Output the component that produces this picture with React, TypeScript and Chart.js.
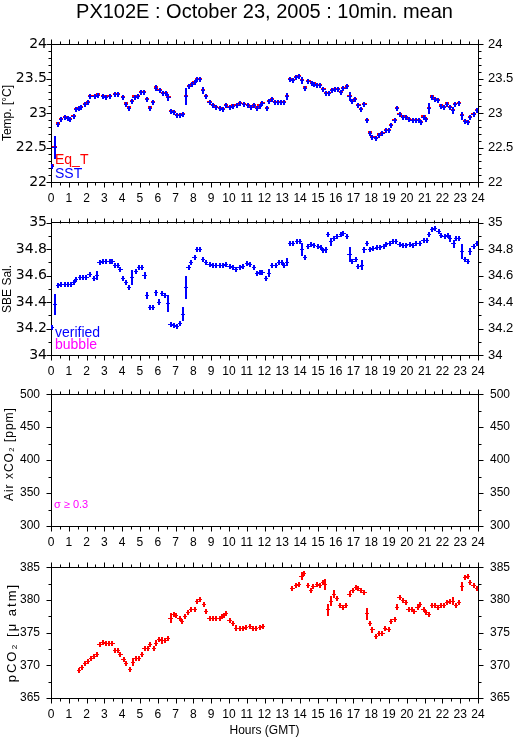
import { useEffect, useRef } from 'react';
import { Chart, registerables } from 'chart.js';

Chart.register(...registerables);

// ---------- tick labels ----------
const hourTicks = [0, 1, 2, 3, 4, 5, 6, 7, 8, 9, 10, 11, 12, 13, 14, 15, 16, 17, 18, 19, 20, 21, 22, 23, 24];
const tempTicks = [22, 22.5, 23, 23.5, 24];
const salTicks = [34, 34.2, 34.4, 34.6, 34.8, 35];
const airTicks = [300, 350, 400, 450, 500];
const pco2Ticks = [365, 370, 375, 380, 385];

// ---------- panel 1 : temperature ----------
const sstHours = [0.07, 0.2, 0.4, 0.58, 0.77, 0.95, 1.08, 1.27, 1.42, 1.57, 1.7, 1.9, 2.08, 2.2, 2.45, 2.64, 2.92, 3.1, 3.3, 3.58, 3.76, 4.04, 4.2, 4.38, 4.57, 4.7, 4.89, 5.07, 5.22, 5.41, 5.58, 5.73, 5.92, 6.1, 6.29, 6.45, 6.6, 6.75, 6.9, 7.1, 7.27, 7.42, 7.57, 7.75, 7.94, 8.07, 8.22, 8.38, 8.56, 8.73, 8.91, 9.1, 9.29, 9.48, 9.66, 9.85, 10.04, 10.22, 10.45, 10.64, 10.84, 11.07, 11.25, 11.4, 11.57, 11.72, 11.88, 12.12, 12.25, 12.44, 12.6, 12.77, 12.94, 13.1, 13.25, 13.44, 13.62, 13.75, 13.94, 14.09, 14.28, 14.47, 14.65, 14.8, 14.94, 15.1, 15.31, 15.44, 15.63, 15.78, 15.97, 16.12, 16.28, 16.44, 16.63, 16.78, 16.94, 17.09, 17.28, 17.43, 17.62, 17.75, 17.94, 18.07, 18.26, 18.45, 18.63, 18.82, 18.97, 19.12, 19.31, 19.44, 19.59, 19.78, 19.95, 20.13, 20.32, 20.49, 20.66, 20.79, 20.94, 21.09, 21.26, 21.41, 21.6, 21.75, 21.92, 22.1, 22.25, 22.44, 22.59, 22.72, 22.95, 23.1, 23.25, 23.42, 23.57, 23.75, 23.94];
const sstValues = [22.23, 22.5, 22.83, 22.9, 22.93, 22.92, 22.9, 22.95, 23.05, 23.06, 23.08, 23.12, 23.15, 23.24, 23.24, 23.26, 23.24, 23.23, 23.24, 23.27, 23.27, 23.22, 23.12, 23.07, 23.17, 23.23, 23.24, 23.29, 23.29, 23.2, 23.07, 23.15, 23.36, 23.32, 23.28, 23.28, 23.22, 23.02, 23.01, 22.96, 22.96, 22.98, 23.24, 23.38, 23.41, 23.44, 23.49, 23.49, 23.32, 23.24, 23.15, 23.11, 23.08, 23.06, 23.05, 23.11, 23.08, 23.1, 23.11, 23.14, 23.12, 23.11, 23.08, 23.11, 23.07, 23.1, 23.14, 23.06, 23.17, 23.19, 23.15, 23.15, 23.15, 23.15, 23.24, 23.48, 23.47, 23.51, 23.53, 23.47, 23.36, 23.46, 23.43, 23.42, 23.4, 23.4, 23.34, 23.28, 23.28, 23.32, 23.34, 23.34, 23.3, 23.35, 23.38, 23.24, 23.17, 23.2, 23.11, 23.05, 23.12, 22.89, 22.7, 22.64, 22.63, 22.68, 22.7, 22.74, 22.74, 22.82, 22.89, 23.06, 22.98, 22.94, 22.93, 22.9, 22.89, 22.89, 22.89, 22.86, 22.94, 22.91, 23.06, 23.23, 23.19, 23.18, 23.1, 23.08, 23.13, 23.08, 23.03, 23.12, 23.14, 22.96, 22.88, 22.86, 22.93, 22.98, 23.03];
const sstErrors = [0.01, 0.17, 0.04, 0.01, 0.01, 0.01, 0.01, 0.02, 0.02, 0.02, 0.01, 0.01, 0.01, 0.01, 0.02, 0.02, 0.01, 0.01, 0.01, 0.01, 0.01, 0.02, 0.04, 0.01, 0.04, 0.02, 0.01, 0.02, 0.03, 0.02, 0.02, 0.02, 0.04, 0.02, 0.02, 0.02, 0.05, 0.01, 0.01, 0.01, 0.01, 0.02, 0.12, 0.02, 0.01, 0.02, 0.01, 0.01, 0.05, 0.03, 0.01, 0.02, 0.01, 0.01, 0.01, 0.02, 0.02, 0.01, 0.01, 0.01, 0.01, 0.01, 0.01, 0.01, 0.02, 0.01, 0.01, 0.01, 0.02, 0.01, 0.01, 0.01, 0.01, 0.01, 0.05, 0.01, 0.01, 0.01, 0.01, 0.05, 0.01, 0.01, 0.01, 0.01, 0.01, 0.01, 0.02, 0.01, 0.01, 0.01, 0.01, 0.01, 0.01, 0.02, 0.01, 0.06, 0.02, 0.01, 0.02, 0.02, 0.02, 0.04, 0.04, 0.02, 0.01, 0.01, 0.01, 0.01, 0.01, 0.02, 0.02, 0.02, 0.03, 0.01, 0.01, 0.01, 0.01, 0.01, 0.01, 0.01, 0.02, 0.02, 0.08, 0.01, 0.01, 0.01, 0.03, 0.02, 0.01, 0.04, 0.05, 0.01, 0.01, 0.06, 0.02, 0.02, 0.02, 0.01, 0.02];
const eqTValues = [22.25, 22.51, 22.85, 22.91, 22.94, 22.93, 22.91, 22.96, 23.06, 23.07, 23.09, 23.13, 23.16, 23.25, 23.25, 23.27, 23.25, 23.24, 23.25, 23.28, 23.28, 23.23, 23.14, 23.08, 23.18, 23.24, 23.25, 23.3, 23.3, 23.21, 23.08, 23.16, 23.38, 23.33, 23.29, 23.29, 23.23, 23.03, 23.02, 22.97, 22.97, 22.99, 23.25, 23.39, 23.42, 23.45, 23.5, 23.5, 23.33, 23.25, 23.16, 23.12, 23.09, 23.07, 23.06, 23.12, 23.09, 23.11, 23.12, 23.15, 23.13, 23.12, 23.09, 23.12, 23.08, 23.11, 23.15, 23.07, 23.18, 23.2, 23.16, 23.16, 23.16, 23.16, 23.25, 23.49, 23.48, 23.52, 23.54, 23.48, 23.37, 23.47, 23.44, 23.43, 23.41, 23.41, 23.35, 23.29, 23.29, 23.33, 23.35, 23.35, 23.31, 23.36, 23.39, 23.25, 23.18, 23.21, 23.12, 23.06, 23.13, 22.9, 22.72, 22.65, 22.64, 22.69, 22.71, 22.75, 22.75, 22.83, 22.9, 23.07, 22.99, 22.95, 22.94, 22.91, 22.9, 22.9, 22.9, 22.87, 22.95, 22.92, 23.07, 23.24, 23.2, 23.19, 23.11, 23.09, 23.14, 23.09, 23.04, 23.13, 23.15, 22.97, 22.89, 22.87, 22.94, 22.99, 23.04];

// ---------- panel 2 : salinity ----------
const salHours = [0.06, 0.24, 0.39, 0.58, 0.77, 0.95, 1.14, 1.3, 1.42, 1.61, 1.8, 1.99, 2.17, 2.42, 2.58, 2.73, 2.92, 3.1, 3.3, 3.45, 3.58, 3.76, 3.9, 4.04, 4.23, 4.38, 4.57, 4.76, 4.94, 5.13, 5.26, 5.39, 5.58, 5.73, 5.92, 6.07, 6.25, 6.39, 6.57, 6.72, 6.9, 7.1, 7.25, 7.42, 7.57, 7.73, 7.88, 8.07, 8.22, 8.38, 8.56, 8.73, 8.91, 9.1, 9.29, 9.48, 9.66, 9.85, 10.04, 10.22, 10.41, 10.6, 10.79, 11.01, 11.2, 11.39, 11.56, 11.72, 11.88, 12.07, 12.25, 12.44, 12.63, 12.82, 12.97, 13.12, 13.25, 13.44, 13.62, 13.81, 13.97, 14.12, 14.28, 14.43, 14.62, 14.8, 14.99, 15.16, 15.31, 15.44, 15.56, 15.74, 15.91, 16.1, 16.29, 16.44, 16.63, 16.78, 16.94, 17.12, 17.28, 17.47, 17.62, 17.75, 17.94, 18.12, 18.31, 18.5, 18.69, 18.84, 19.03, 19.2, 19.38, 19.59, 19.78, 19.96, 20.15, 20.34, 20.53, 20.72, 20.94, 21.13, 21.26, 21.41, 21.6, 21.78, 21.93, 22.12, 22.31, 22.44, 22.63, 22.78, 22.95, 23.1, 23.25, 23.44, 23.57, 23.75, 23.94];
const salValues = [34.21, 34.38, 34.525, 34.53, 34.535, 34.535, 34.535, 34.547, 34.57, 34.583, 34.59, 34.59, 34.61, 34.58, 34.6, 34.7, 34.706, 34.71, 34.71, 34.706, 34.68, 34.68, 34.645, 34.58, 34.55, 34.51, 34.585, 34.63, 34.66, 34.66, 34.6, 34.45, 34.36, 34.36, 34.47, 34.4, 34.465, 34.45, 34.39, 34.23, 34.22, 34.215, 34.24, 34.31, 34.51, 34.66, 34.7, 34.735, 34.8, 34.795, 34.72, 34.7, 34.685, 34.675, 34.675, 34.675, 34.675, 34.685, 34.67, 34.665, 34.645, 34.665, 34.668, 34.694, 34.687, 34.66, 34.615, 34.625, 34.625, 34.58, 34.62, 34.68, 34.68, 34.7, 34.7, 34.68, 34.7, 34.84, 34.84, 34.86, 34.86, 34.8, 34.74, 34.82, 34.835, 34.826, 34.82, 34.81, 34.79, 34.795, 34.91, 34.855, 34.88, 34.9, 34.91, 34.916, 34.9, 34.76, 34.71, 34.72, 34.67, 34.68, 34.795, 34.84, 34.8, 34.807, 34.81, 34.814, 34.82, 34.836, 34.843, 34.855, 34.86, 34.836, 34.826, 34.83, 34.836, 34.83, 34.843, 34.84, 34.867, 34.863, 34.91, 34.947, 34.96, 34.935, 34.904, 34.9, 34.904, 34.88, 34.843, 34.88, 34.88, 34.783, 34.723, 34.71, 34.783, 34.82, 34.843];
const salErrors = [0.005, 0.08, 0.005, 0.005, 0.005, 0.005, 0.005, 0.005, 0.005, 0.005, 0.005, 0.005, 0.005, 0.015, 0.035, 0.005, 0.005, 0.005, 0.005, 0.005, 0.005, 0.005, 0.01, 0.01, 0.02, 0.005, 0.055, 0.005, 0.005, 0.005, 0.025, 0.025, 0.02, 0.02, 0.02, 0.02, 0.02, 0.005, 0.065, 0.01, 0.005, 0.005, 0.005, 0.05, 0.09, 0.02, 0.01, 0.02, 0.005, 0.005, 0.02, 0.005, 0.005, 0.005, 0.005, 0.005, 0.005, 0.005, 0.005, 0.005, 0.005, 0.005, 0.005, 0.005, 0.005, 0.005, 0.01, 0.005, 0.005, 0.005, 0.03, 0.005, 0.005, 0.005, 0.005, 0.005, 0.03, 0.01, 0.005, 0.005, 0.005, 0.05, 0.02, 0.005, 0.005, 0.005, 0.005, 0.005, 0.01, 0.02, 0.015, 0.03, 0.015, 0.005, 0.005, 0.005, 0.015, 0.06, 0.01, 0.005, 0.015, 0.04, 0.02, 0.005, 0.02, 0.005, 0.005, 0.005, 0.005, 0.005, 0.005, 0.005, 0.005, 0.005, 0.005, 0.005, 0.005, 0.005, 0.005, 0.005, 0.01, 0.01, 0.015, 0.01, 0.005, 0.01, 0.015, 0.005, 0.005, 0.025, 0.03, 0.005, 0.005, 0.06, 0.005, 0.005, 0.03, 0.01, 0.01];

// ---------- panel 4 : pCO2 ----------
const pco2Hours = [1.57, 1.72, 1.91, 2.08, 2.23, 2.42, 2.58, 2.73, 2.92, 3.1, 3.26, 3.45, 3.6, 3.76, 3.9, 4.08, 4.23, 4.42, 4.61, 4.76, 4.94, 5.13, 5.26, 5.45, 5.58, 5.77, 5.92, 6.07, 6.25, 6.39, 6.57, 6.72, 6.89, 7.04, 7.23, 7.38, 7.55, 7.72, 7.88, 8.07, 8.2, 8.39, 8.58, 8.73, 8.91, 9.1, 9.29, 9.48, 9.6, 9.72, 9.85, 10.04, 10.22, 10.41, 10.6, 10.79, 10.97, 11.2, 11.35, 11.54, 11.75, 11.93, 13.57, 13.75, 13.92, 14.08, 14.24, 14.43, 14.6, 14.75, 14.94, 15.12, 15.27, 15.41, 15.56, 15.74, 15.91, 16.06, 16.25, 16.44, 16.59, 16.78, 16.95, 17.13, 17.28, 17.43, 17.62, 17.75, 17.94, 18.07, 18.26, 18.45, 18.63, 18.78, 18.97, 19.12, 19.31, 19.44, 19.59, 19.78, 19.95, 20.1, 20.28, 20.43, 20.6, 20.75, 20.94, 21.09, 21.26, 21.41, 21.6, 21.75, 21.92, 22.1, 22.25, 22.44, 22.59, 22.76, 22.95, 23.1, 23.25, 23.42, 23.57, 23.75, 23.94];
const pco2Values = [369.2, 369.7, 370.2, 370.6, 371.1, 371.3, 371.6, 373.2, 373.5, 373.4, 373.4, 373.3, 372.2, 372.3, 371.6, 370.9, 370.3, 369.4, 370.5, 371.0, 371.1, 371.7, 372.5, 372.6, 373.2, 372.6, 373.4, 373.9, 373.8, 373.8, 374.1, 377.2, 377.7, 377.6, 377.2, 376.7, 377.5, 378.0, 378.6, 378.6, 379.7, 380.1, 379.3, 378.3, 377.2, 377.2, 377.2, 377.2, 377.5, 377.6, 377.9, 376.9, 376.4, 375.7, 375.6, 375.7, 375.75, 376.0, 375.7, 375.7, 375.75, 375.9, 381.8, 382.2, 382.35, 383.6, 384.0, 382.2, 381.5, 382.0, 382.35, 382.2, 382.7, 382.35, 378.5, 379.8, 380.9, 380.2, 379.1, 378.9, 379.2, 380.9, 381.5, 381.9, 381.8, 381.5, 381.1, 377.9, 376.4, 375.4, 374.4, 374.9, 374.9, 375.7, 375.5, 376.7, 377.0, 378.9, 380.4, 379.9, 379.6, 378.5, 378.6, 378.3, 378.9, 379.3, 378.6, 378.1, 377.8, 379.1, 379.1, 378.8, 379.2, 379.2, 379.6, 379.8, 379.8, 379.2, 379.6, 382.1, 383.4, 383.55, 382.7, 382.25, 381.7];
const pco2Errors = [0.3, 0.15, 0.15, 0.15, 0.15, 0.15, 0.3, 0.3, 0.15, 0.15, 0.15, 0.4, 0.15, 0.3, 0.2, 0.3, 0.4, 0.15, 0.6, 0.4, 0.15, 0.4, 0.15, 0.15, 0.3, 0.4, 0.5, 0.3, 0.5, 0.15, 0.3, 0.8, 0.3, 0.15, 0.2, 0.15, 0.3, 0.15, 0.15, 0.2, 0.15, 0.15, 0.3, 0.3, 0.15, 0.15, 0.15, 0.15, 0.15, 0.15, 0.3, 0.3, 0.3, 0.4, 0.15, 0.15, 0.15, 0.15, 0.15, 0.15, 0.15, 0.2, 0.15, 0.15, 0.15, 0.6, 0.4, 0.4, 0.15, 0.15, 0.15, 0.15, 0.2, 0.8, 0.9, 0.8, 0.6, 0.2, 0.3, 0.15, 0.3, 0.4, 0.15, 0.15, 0.15, 0.2, 0.4, 0.9, 0.3, 0.4, 0.15, 0.15, 0.15, 0.3, 0.15, 0.3, 0.15, 0.4, 0.3, 0.15, 0.15, 0.3, 0.15, 0.3, 0.4, 0.15, 0.3, 0.15, 0.15, 0.3, 0.15, 0.15, 0.15, 0.15, 0.15, 0.2, 0.6, 0.4, 0.15, 0.7, 0.15, 0.15, 0.4, 0.3, 0.3];

// ---------- styling ----------
const NARROW = "'Liberation Sans Narrow', 'Liberation Sans', Arial, sans-serif";
const SANS = "'Liberation Sans', Arial, sans-serif";
const DEJAVU = "'DejaVu Sans', sans-serif";
const BLUE = '#0000ff';
const RED = '#ff0000';
const MAGENTA = '#ff00ff';
const CANVAS_W = 515;
const LEFT_W = 51;
const RIGHT_W = 37;

type Series = {
  label: string;
  hours: number[];
  values: number[];
  errors?: number[];
  color: string;
  hLine: number;
  vLine: number;
  halfWidth: number;
  minHalf: number;
};
type Note = { text: string; color: string; x: number; y: number; font: string };
type Panel = {
  top: number;
  height: number;
  plotTop: number;
  plotBottom: number;
  min: number;
  max: number;
  ticks: number[];
  minorStep: number;
  leftFont: { family: string; size: number };
  leftPad: number;
  rightFont: { family: string; size: number };
  rightPad: number;
  yTitle: string;
  yTitleX: number;
  yTitleDY: number;
  yTitleFont: string;
  yTitleSpacing: string;
  series: Series[];
  notes: Note[];
  mainTitle?: string;
  xTitle?: string;
};

const panels: Panel[] = [
  {
    top: 0, height: 205, plotTop: 44, plotBottom: 182,
    min: 22, max: 24, ticks: tempTicks, minorStep: 0.1,
    leftFont: { family: DEJAVU, size: 14 }, leftPad: 4,
    rightFont: { family: SANS, size: 13 }, rightPad: 10,
    yTitle: 'Temp. [°C]', yTitleX: 8, yTitleDY: 0, yTitleFont: '12px ' + SANS, yTitleSpacing: '0px',
    series: [
      { label: 'Eq_T', hours: sstHours, values: eqTValues, color: RED, hLine: 2, vLine: 0, halfWidth: 0.12, minHalf: 0 },
      { label: 'SST', hours: sstHours, values: sstValues, errors: sstErrors, color: BLUE, hLine: 1, vLine: 2, halfWidth: 0.12, minHalf: 2.5 },
    ],
    notes: [
      { text: 'Eq_T', color: RED, x: 55, y: 164, font: '14px ' + NARROW },
      { text: 'SST', color: BLUE, x: 55, y: 178, font: '14px ' + NARROW },
    ],
    mainTitle: 'PX102E : October 23, 2005 : 10min. mean',
  },
  {
    top: 205, height: 170, plotTop: 217, plotBottom: 355,
    min: 34, max: 35, ticks: salTicks, minorStep: 0.1,
    leftFont: { family: DEJAVU, size: 14 }, leftPad: 4,
    rightFont: { family: SANS, size: 13 }, rightPad: 10,
    yTitle: 'SBE Sal.', yTitleX: 8, yTitleDY: 0, yTitleFont: '12px ' + SANS, yTitleSpacing: '0px',
    series: [
      { label: 'verified', hours: salHours, values: salValues, errors: salErrors, color: BLUE, hLine: 1, vLine: 2, halfWidth: 0.12, minHalf: 2.5 },
    ],
    notes: [
      { text: 'verified', color: BLUE, x: 55, y: 337, font: '14px ' + NARROW },
      { text: 'bubble', color: MAGENTA, x: 55, y: 349, font: '14px ' + NARROW },
    ],
  },
  {
    top: 375, height: 173, plotTop: 388, plotBottom: 526,
    min: 300, max: 500, ticks: airTicks, minorStep: 25,
    leftFont: { family: SANS, size: 12 }, leftPad: 11,
    rightFont: { family: SANS, size: 12 }, rightPad: 12,
    yTitle: 'Air xCO₂ [ppm]', yTitleX: 10, yTitleDY: -6, yTitleFont: '12px ' + SANS, yTitleSpacing: '1px',
    series: [],
    notes: [
      { text: 'σ ≥ 0.3', color: MAGENTA, x: 54, y: 508, font: '11px ' + SANS },
    ],
  },
  {
    top: 548, height: 191, plotTop: 560, plotBottom: 698,
    min: 365, max: 385, ticks: pco2Ticks, minorStep: 2.5,
    leftFont: { family: SANS, size: 12 }, leftPad: 11,
    rightFont: { family: SANS, size: 12 }, rightPad: 12,
    yTitle: 'pCO₂ [μ atm]', yTitleX: 12, yTitleDY: 0, yTitleFont: '13px ' + SANS, yTitleSpacing: '2px',
    series: [
      { label: 'pCO2', hours: pco2Hours, values: pco2Values, errors: pco2Errors, color: RED, hLine: 1, vLine: 2, halfWidth: 0.12, minHalf: 2.5 },
    ],
    notes: [],
    xTitle: 'Hours (GMT)',
  },
];

function snap(v: number, w: number) {
  const odd = Math.round(w) % 2 === 1;
  return odd ? Math.floor(v) + 0.5 : Math.round(v);
}

function makeDecor(p: Panel) {
  return {
    id: 'decor',
    afterDatasetsDraw(chart: any) {
      const { ctx, chartArea: a } = chart;
      const xs = chart.scales.x;
      const ys = chart.scales.y;
      ctx.save();
      ctx.beginPath();
      ctx.rect(a.left, a.top, a.right - a.left, a.bottom - a.top);
      ctx.clip();
      ctx.lineCap = 'butt';
      p.series.forEach((s, si) => {
        const meta = chart.getDatasetMeta(si);
        ctx.strokeStyle = s.color;
        meta.data.forEach((el: any, j: number) => {
          const h = s.hours[j];
          const v = s.values[j];
          const cy = snap(el.y, s.hLine);
          const cx = snap(el.x, s.vLine);
          const xl = xs.getPixelForValue(h - s.halfWidth);
          const xr = xs.getPixelForValue(h + s.halfWidth);
          ctx.lineWidth = s.hLine;
          ctx.beginPath();
          ctx.moveTo(Math.round(xl), cy);
          ctx.lineTo(Math.round(xr), cy);
          ctx.stroke();
          if (s.vLine > 0) {
            const e = s.errors ? s.errors[j] : 0;
            let up = ys.getPixelForValue(v + e);
            let dn = ys.getPixelForValue(v - e);
            if (el.y - up < s.minHalf) up = el.y - s.minHalf;
            if (dn - el.y < s.minHalf) dn = el.y + s.minHalf;
            ctx.lineWidth = s.vLine;
            ctx.beginPath();
            ctx.moveTo(cx, Math.round(up));
            ctx.lineTo(cx, Math.round(dn));
            ctx.stroke();
          }
        });
      });
      ctx.restore();
    },
    afterDraw(chart: any) {
      const { ctx, chartArea: a } = chart;
      const xs = chart.scales.x;
      const ys = chart.scales.y;
      const L = Math.round(a.left) + 0.5;
      const R = Math.round(a.right) + 0.5;
      const T = Math.round(a.top) + 0.5;
      const B = Math.round(a.bottom) + 0.5;
      ctx.save();
      ctx.strokeStyle = '#000';
      ctx.lineWidth = 1;
      ctx.beginPath();
      for (let i = 0; i <= 48; i++) {
        const hv = i / 2;
        const len = i % 2 === 0 ? 5 : 3;
        const px = Math.round(xs.getPixelForValue(hv)) + 0.5;
        ctx.moveTo(px, T);
        ctx.lineTo(px, T - len);
        ctx.moveTo(px, B);
        ctx.lineTo(px, B + len);
      }
      const n = Math.round((p.max - p.min) / p.minorStep);
      for (let i = 0; i <= n; i++) {
        const v = p.min + i * p.minorStep;
        const major = p.ticks.some((t) => Math.abs(t - v) < 1e-6);
        const len = major ? 5 : 3;
        const py = Math.round(ys.getPixelForValue(v)) + 0.5;
        ctx.moveTo(L, py);
        ctx.lineTo(L - len, py);
        ctx.moveTo(R, py);
        ctx.lineTo(R + len, py);
      }
      ctx.stroke();

      // y-axis title
      ctx.save();
      ctx.fillStyle = '#000';
      ctx.font = p.yTitleFont;
      (ctx as any).letterSpacing = p.yTitleSpacing;
      ctx.translate(p.yTitleX, (a.top + a.bottom) / 2 + p.yTitleDY);
      ctx.rotate(-Math.PI / 2);
      ctx.textAlign = 'center';
      ctx.textBaseline = 'middle';
      ctx.fillText(p.yTitle, 0, 0);
      ctx.restore();

      // in-plot notes
      ctx.textAlign = 'left';
      ctx.textBaseline = 'alphabetic';
      p.notes.forEach((nt) => {
        ctx.font = nt.font;
        ctx.fillStyle = nt.color;
        ctx.fillText(nt.text, nt.x, nt.y - p.top);
      });

      const cxMid = (a.left + a.right) / 2;
      if (p.mainTitle) {
        ctx.font = '20px ' + SANS;
        ctx.fillStyle = '#000';
        ctx.textAlign = 'center';
        ctx.textBaseline = 'alphabetic';
        ctx.fillText(p.mainTitle, cxMid, 18);
      }
      if (p.xTitle) {
        ctx.font = '12px ' + SANS;
        ctx.fillStyle = '#000';
        ctx.textAlign = 'center';
        ctx.textBaseline = 'middle';
        ctx.fillText(p.xTitle, cxMid, 731 - p.top);
      }
      ctx.restore();
    },
  };
}

function buildConfig(p: Panel): any {
  const topH = p.plotTop - p.top;
  const bottomH = p.top + p.height - p.plotBottom;
  const noGrid = { display: false, drawTicks: false, tickLength: 0 };
  const border = { display: true, color: '#000', width: 1 };
  const yTickSet = (s: any) => {
    s.ticks = p.ticks.map((v) => ({ value: v }));
  };
  return {
    type: 'scatter',
    data: {
      datasets: p.series.map((s) => ({
        label: s.label,
        data: s.hours.map((h, j) => ({ x: h, y: s.values[j] })),
        pointRadius: 0,
        pointHoverRadius: 0,
        showLine: false,
        borderColor: s.color,
        backgroundColor: s.color,
      })),
    },
    options: {
      responsive: false,
      animation: false,
      devicePixelRatio: 1,
      events: [],
      layout: { padding: 0 },
      plugins: { legend: { display: false }, tooltip: { enabled: false }, title: { display: false } },
      scales: {
        x: {
          type: 'linear', position: 'bottom', min: 0, max: 24,
          afterBuildTicks: (s: any) => { s.ticks = hourTicks.map((v) => ({ value: v })); },
          afterFit: (s: any) => { s.height = bottomH; },
          ticks: { display: true, autoSkip: false, maxRotation: 0, padding: 9, color: '#000', font: { family: NARROW, size: 12 }, callback: (v: any) => String(v) },
          grid: noGrid, border,
        },
        xTop: {
          type: 'linear', position: 'top', min: 0, max: 24,
          afterFit: (s: any) => { s.height = topH; },
          ticks: { display: false },
          grid: noGrid, border,
        },
        y: {
          type: 'linear', position: 'left', min: p.min, max: p.max,
          afterBuildTicks: yTickSet,
          afterFit: (s: any) => { s.width = LEFT_W; },
          ticks: { padding: p.leftPad, color: '#000', font: p.leftFont, callback: (v: any) => String(v) },
          grid: noGrid, border,
        },
        y2: {
          type: 'linear', position: 'right', min: p.min, max: p.max,
          afterBuildTicks: yTickSet,
          afterFit: (s: any) => { s.width = RIGHT_W; },
          ticks: { padding: p.rightPad, color: '#000', font: p.rightFont, callback: (v: any) => String(v) },
          grid: noGrid, border,
        },
      },
    },
    plugins: [makeDecor(p)],
  };
}

export default function App() {
  const canvasRefs = useRef<(HTMLCanvasElement | null)[]>([]);
  useEffect(() => {
    const charts = panels.map((p, i) => new Chart(canvasRefs.current[i] as HTMLCanvasElement, buildConfig(p)));
    return () => charts.forEach((c) => c.destroy());
  }, []);
  return (
    <div style={{ position: 'absolute', left: 0, top: 0, width: CANVAS_W, height: 739, background: '#ffffff' }}>
      {panels.map((p, i) => (
        <canvas
          key={i}
          ref={(el) => { canvasRefs.current[i] = el; }}
          width={CANVAS_W}
          height={p.height}
          style={{ position: 'absolute', left: 0, top: p.top, width: CANVAS_W, height: p.height }}
        />
      ))}
    </div>
  );
}
